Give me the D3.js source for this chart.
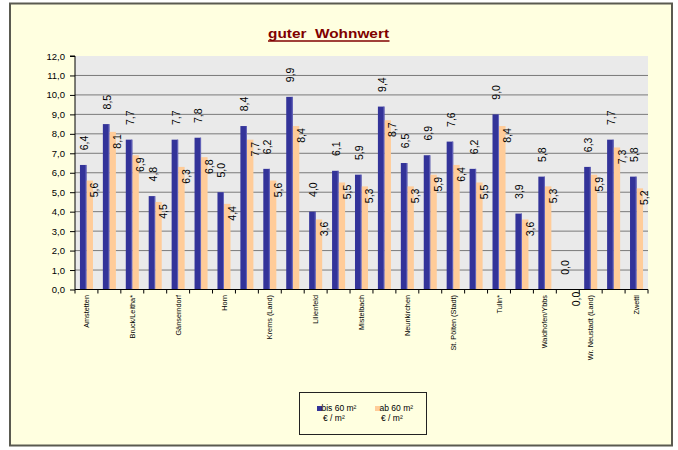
<!DOCTYPE html>
<html>
<head>
<meta charset="utf-8">
<script src="https://cdn.jsdelivr.net/npm/d3@7"></script>
<style>
  html, body { margin: 0; padding: 0; background: #fff; }
  svg { display: block; font-family: Arial, "Liberation Sans", sans-serif; }
</style>
</head>
<body>
<div id="chart"></div>
<script>
// guter Wohnwert — grouped bars, € / m² by district

const categories = [
  "Amstetten", "Baden", "Bruck/Leitha*", "Gmünd", "Gänserndorf", "Hollabrunn",
  "Horn", "Korneuburg", "Krems (Land)", "Krems (Stadt)", "Lilienfeld", "Melk",
  "Mistelbach", "Mödling", "Neunkirchen", "St. Pölten (Land)", "St. Pölten (Stadt)",
  "Scheibbs", "Tulln*", "Waidhofen/Thaya", "Waidhofen/Ybbs", "Wien-Umgebung",
  "Wr. Neustadt (Land)", "Wr. Neustadt (Stadt)", "Zwettl"
];
const bis60 = [6.4, 8.5, 7.7, 4.8, 7.7, 7.8, 5.0, 8.4, 6.2, 9.9, 4.0, 6.1, 5.9, 9.4, 6.5, 6.9, 7.6, 6.2, 9.0, 3.9, 5.8, 0.0, 6.3, 7.7, 5.8];
const ab60  = [5.6, 8.1, 6.9, 4.5, 6.3, 6.8, 4.4, 7.7, 5.6, 8.4, 3.6, 5.5, 5.3, 8.7, 5.3, 5.9, 6.4, 5.5, 8.4, 3.6, 5.3, 0.0, 5.9, 7.3, 5.2];
const seriesNames = ["bis 60 m²", "ab 60 m²"];
const seriesUnit = "€ / m²";
const yTicks = [0, 1, 2, 3, 4, 5, 6, 7, 8, 9, 10, 11, 12];

const colors = ["#333399", "#FFCC99"];
const W = 678, H = 450;
const plot = { left: 75, right: 648, top: 56, bottom: 289.5 };

const svg = d3.select("#chart").append("svg")
  .attr("width", W).attr("height", H);

// frame
svg.append("rect")
  .attr("x", 10).attr("y", 3.5).attr("width", 662).attr("height", 442)
  .attr("fill", "#FFFFE0").attr("stroke", "#5a5a50").attr("stroke-width", 2);

// title
svg.append("text")
  .attr("x", 328.5).attr("y", 38)
  .attr("text-anchor", "middle")
  .attr("font-size", 13.5).attr("font-weight", "bold")
  .attr("fill", "#800000")
  .attr("textLength", 121).attr("lengthAdjust", "spacingAndGlyphs")
  .style("white-space", "pre")
  .text("guter  Wohnwert");
svg.append("line")
  .attr("x1", 268).attr("x2", 389.5).attr("y1", 41).attr("y2", 41)
  .attr("stroke", "#800000").attr("stroke-width", 1.6);

// scales
const x = d3.scaleBand().domain(categories).range([plot.left, plot.right]).padding(0);
const xs = d3.scaleBand().domain([0, 1]).range([0, x.bandwidth()])
  .paddingInner(0).paddingOuter(0.76);
const y = d3.scaleLinear().domain([0, 12]).range([plot.bottom, plot.top]);

// plot background
svg.append("rect")
  .attr("x", plot.left).attr("y", plot.top)
  .attr("width", plot.right - plot.left).attr("height", plot.bottom - plot.top)
  .attr("fill", "#EAEAEA");

// gridlines
svg.append("g").selectAll("line")
  .data(yTicks.filter((d) => d > 0 && d < 12))
  .join("line")
  .attr("x1", plot.left).attr("x2", plot.right)
  .attr("y1", (d) => y(d)).attr("y2", (d) => y(d))
  .attr("stroke", "#7a7a7a").attr("stroke-width", 1);

// bars
const series = [bis60, ab60];
svg.append("g").selectAll("g")
  .data(series)
  .join("g")
  .attr("fill", (_, i) => colors[i])
  .each(function (vals, si) {
    d3.select(this).selectAll("rect")
      .data(vals)
      .join("rect")
      .attr("x", (_, i) => x(categories[i]) + xs(si))
      .attr("width", xs.bandwidth())
      .attr("y", (d) => y(d))
      .attr("height", (d) => y(0) - y(d));
  });

// lighter right edge on blue bars
svg.append("g").selectAll("rect")
  .data(bis60.map((v, i) => ({ v, i })).filter((d) => d.v > 0))
  .join("rect")
  .attr("x", (d) => x(categories[d.i]) + xs(0) + xs.bandwidth() - 1)
  .attr("width", 1)
  .attr("y", (d) => y(d.v))
  .attr("height", (d) => y(0) - y(d.v))
  .attr("fill", "#6666bb");

// y axis
const yAxis = svg.append("g")
  .attr("transform", `translate(${plot.left},0)`)
  .call(d3.axisLeft(y).tickValues(yTicks).tickSize(5).tickPadding(5)
    .tickFormat((d) => d.toFixed(1).replace(".", ",")));
yAxis.select(".domain").attr("stroke", "#000").attr("d", `M-5,${y(12)}H0V${y(0)}`);
yAxis.selectAll(".tick line").attr("stroke", "#000");
yAxis.selectAll("text").attr("font-size", 9.5).attr("fill", "#000")
  .attr("font-family", "Arial, 'Liberation Sans', sans-serif");

// x axis: line, boundary ticks, every other label
const xAxis = svg.append("g")
  .attr("transform", `translate(0,${plot.bottom})`)
  .call(d3.axisBottom(x).tickSize(0).tickPadding(0)
    .tickFormat((d, i) => (i % 2 ? "" : d)));
xAxis.select(".domain").attr("stroke", "#000").attr("d", `M${plot.left},0H${plot.right}`);
xAxis.selectAll("text")
  .attr("font-size", 7.3).attr("fill", "#000")
  .attr("font-family", "Arial, 'Liberation Sans', sans-serif")
  .attr("text-anchor", "end")
  .attr("transform", "translate(0,5.5) rotate(-90)")
  .attr("x", 0).attr("y", 0).attr("dy", "0.35em");

xAxis.append("g").selectAll("line")
  .data(d3.range(categories.length + 1))
  .join("line")
  .attr("x1", (i) => plot.left + i * x.step())
  .attr("x2", (i) => plot.left + i * x.step())
  .attr("y1", 0).attr("y2", 4)
  .attr("stroke", "#000");

// data labels (rotated)
const fmt = (v) => v.toFixed(1).replace(".", ",");
const labelOffset = [{ dx: 1, dy: -22 }, { dx: 5, dy: 9.5 }];
series.forEach((vals, si) => {
  svg.append("g").selectAll("text")
    .data(vals)
    .join("text")
    .attr("transform", (d, i) => {
      const cx = x(categories[i]) + xs(si) + xs.bandwidth() / 2 + labelOffset[si].dx;
      const cy = y(d) + labelOffset[si].dy;
      return `translate(${cx},${cy}) rotate(-90)`;
    })
    .attr("text-anchor", "middle")
    .attr("dy", "0.35em")
    .attr("font-size", 10.5)
    .attr("fill", "#000")
    .text(fmt);
});

// legend
const legend = svg.append("g");
legend.append("rect")
  .attr("x", 299.5).attr("y", 392.5).attr("width", 127).attr("height", 42)
  .attr("fill", "#FFFFE0").attr("stroke", "#222").attr("stroke-width", 1);
const legendX = [317, 375];
seriesNames.forEach((name, i) => {
  legend.append("rect")
    .attr("x", legendX[i]).attr("y", 406).attr("width", 5).attr("height", 5)
    .attr("fill", colors[i]);
  legend.append("text")
    .attr("x", legendX[i] + 4.5).attr("y", 411)
    .attr("font-size", 8.5).attr("fill", "#000")
    .text(name);
  legend.append("text")
    .attr("x", legendX[i] + 6).attr("y", 420.5)
    .attr("font-size", 8.5).attr("fill", "#000")
    .text(seriesUnit);
});
</script>
</body>
</html>
